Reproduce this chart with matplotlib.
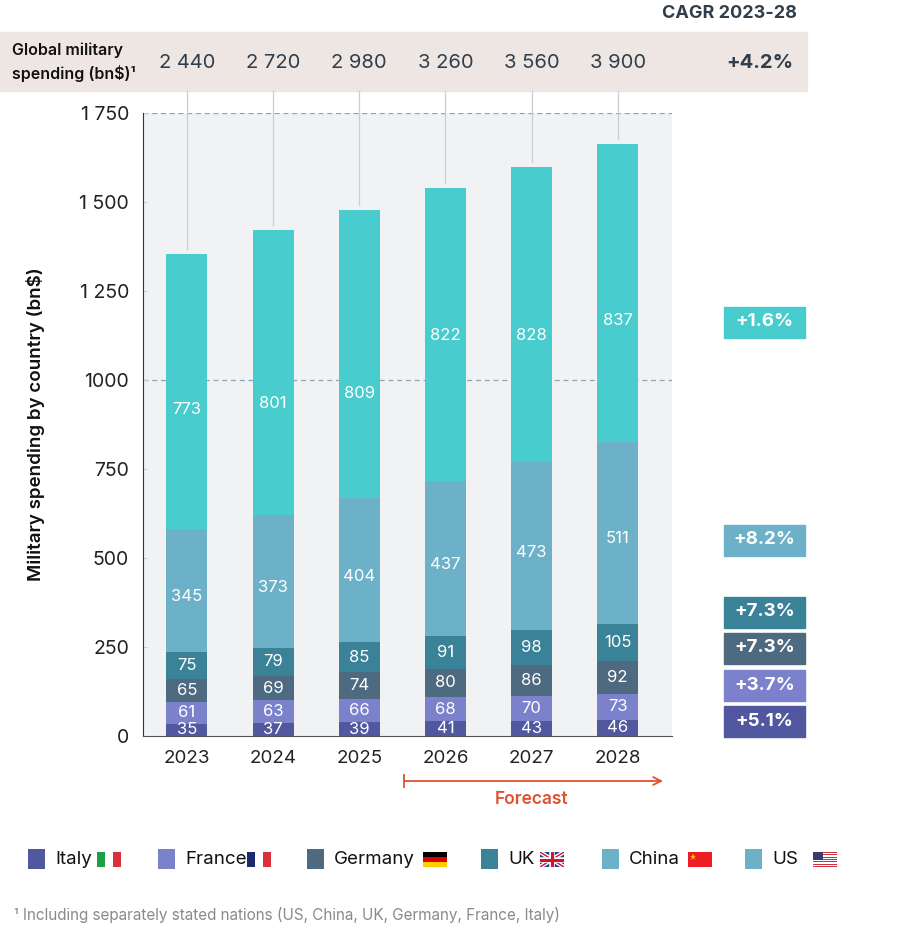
import numpy as np
import matplotlib.pyplot as plt
from matplotlib.patches import Rectangle

plt.rcParams['font.family'] = ['Inter', 'DejaVu Sans']

# ---------------- data ----------------
years = ['2023', '2024', '2025', '2026', '2027', '2028']
countries = ['Italy', 'France', 'Germany', 'UK', 'China', 'US']
italy = [35, 37, 39, 41, 43, 46]
france = [61, 63, 66, 68, 70, 73]
germany = [65, 69, 74, 80, 86, 92]
uk = [75, 79, 85, 91, 98, 105]
china = [345, 373, 404, 437, 473, 511]
us = [773, 801, 809, 822, 828, 837]
global_spend = ['2 440', '2 720', '2 980', '3 260', '3 560', '3 900']
cagr = ['+5.1%', '+3.7%', '+7.3%', '+7.3%', '+8.2%', '+1.6%']
cagr_total = '+4.2%'

series = [italy, france, germany, uk, china, us]
colors = ['#5158a0', '#7b82cb', '#4e6a80', '#3a8298', '#6db1c8', '#48cccd']
legend_colors = ['#5158a0', '#7b82cb', '#4e6a80', '#3a8298', '#6db1c8', '#6db1c8']
dark = '#2f3e4a'
orange = '#e0522f'

# label placement (layout only): shift of segment labels from the segment middle
label_shift = [0, 0, 0, 0, -18, 0]
us_label_y = [916, 935, 963, 1126, 1126, 1166]

fig = plt.figure(figsize=(9, 9.33), dpi=100)

# overlay in pixel coords for header, boxes, legend
ov = fig.add_axes([0, 0, 1, 1], zorder=0)
ov.set_xlim(0, 900)
ov.set_ylim(933, 0)
ov.axis('off')

ax = fig.add_axes([143 / 900, 1 - 736 / 933, 529 / 900, 623 / 933], zorder=1)
ax.set_facecolor('#f1f2f4')

x = np.arange(len(years))
bottom = np.zeros(len(years))
for k, (vals, col) in enumerate(zip(series, colors)):
    vals = np.array(vals)
    ax.bar(x, vals, 0.476, bottom=bottom, color=col, edgecolor='none', zorder=3)
    for j, (xi, b, v) in enumerate(zip(x, bottom, vals)):
        ly = us_label_y[j] if k == len(series) - 1 else b + v / 2 + label_shift[k]
        ax.text(xi, ly, str(v), ha='center', va='center', color='white',
                fontsize=12, zorder=4)
    bottom = bottom + vals
totals = bottom

ax.set_xlim(-0.51, 5.63)
ax.set_ylim(0, 1750)
ax.set_yticks([0, 250, 500, 750, 1000, 1250, 1500, 1750])
ax.set_yticklabels(['0', '250', '500', '750', '1000', '1 250', '1 500', '1 750'],
                   fontsize=14, color='#222222')
ax.set_xticks(x)
ax.set_xticklabels(years, fontsize=13.5, color='#222222')
ax.tick_params(axis='x', length=0, pad=10)
ax.tick_params(axis='y', direction='in', length=3, color='#c8ced3', pad=10)
for s in ['top', 'right']:
    ax.spines[s].set_visible(False)
ax.spines['left'].set_color('#333333')
ax.spines['bottom'].set_color('#555555')
for yv in [1000, 1750]:
    ax.axhline(yv, color='#8fa3b3', lw=0.9, ls=(0, (4, 3)), zorder=1)
ax.set_ylabel('Military spending by country (bn$)', fontsize=13.5,
              weight='semibold', color='#111111')
ax.yaxis.set_label_coords(-0.185, 0.5)

# lines from header to bar tops + header numbers
top_line = 1750 * (736 - 91) / 623
for xi, t, g in zip(x, totals, global_spend):
    ax.plot([xi, xi], [t + 14, top_line], color='#c8ced3', lw=0.9,
            clip_on=False, zorder=2)
    ax.text(xi, (736 - 63) / 623, g, transform=ax.get_xaxis_transform(),
            ha='center', va='center', fontsize=14.5, color=dark)

# header band
ov.add_patch(Rectangle((0, 32), 807, 59, color='#ede6e3', zorder=0))
ov.text(12, 50, 'Global military', fontsize=11.5, weight='semibold',
        va='center', color='#111111')
ov.text(12, 74, 'spending (bn$)¹', fontsize=11.5, weight='semibold',
        va='center', color='#111111')
ov.text(797, 13, 'CAGR 2023-28', ha='right', va='center', fontsize=13,
        weight='bold', color=dark)
ov.text(793, 63, cagr_total, ha='right', va='center', fontsize=14.5,
        weight='bold', color=dark)

# CAGR boxes
box_y = [721, 685, 648, 612, 540, 322]
for yc, col, lab in zip(box_y, colors, cagr):
    ov.add_patch(Rectangle((724, yc - 15.5), 81, 31, color=col))
    ov.text(764.5, yc, lab, ha='center', va='center', fontsize=13.5,
            weight='bold', color='white')

# forecast arrow
ov.annotate('', xy=(663, 781), xytext=(404, 781),
            arrowprops=dict(arrowstyle='->', color=orange, lw=1.3,
                            mutation_scale=14, shrinkA=0, shrinkB=0))
ov.plot([404, 404], [775, 787], color=orange, lw=1.3)
ov.text(532, 800, 'Forecast', ha='center', va='center', fontsize=12.5,
        weight='semibold', color=orange)


# ---------------- flags ----------------
def vflag(x0, y0, w, h, cols):
    for k, c in enumerate(cols):
        ov.add_patch(Rectangle((x0 + k * w / 3, y0), w / 3, h, color=c, lw=0))


def hflag(x0, y0, w, h, cols):
    for k, c in enumerate(cols):
        ov.add_patch(Rectangle((x0, y0 + k * h / 3), w, h / 3, color=c, lw=0))


def uk_flag(x0, y0, w, h):
    bg = Rectangle((x0, y0), w, h, color='#2a3c8a', lw=0)
    ov.add_patch(bg)
    for lw, c in [(3.0, 'white'), (1.0, '#cf142b')]:
        for xs, ys in [([x0, x0 + w], [y0, y0 + h]), ([x0, x0 + w], [y0 + h, y0])]:
            ln, = ov.plot(xs, ys, color=c, lw=lw, solid_capstyle='butt')
            ln.set_clip_path(bg)
    for lw, c in [(4.0, 'white'), (2.2, '#cf142b')]:
        ln, = ov.plot([x0 + w / 2, x0 + w / 2], [y0, y0 + h], color=c, lw=lw)
        ln.set_clip_path(bg)
        ln, = ov.plot([x0, x0 + w], [y0 + h / 2, y0 + h / 2], color=c, lw=lw)
        ln.set_clip_path(bg)


def china_flag(x0, y0, w, h):
    ov.add_patch(Rectangle((x0, y0), w, h, color='#ee1c25', lw=0))
    ov.plot(x0 + w * 0.22, y0 + h * 0.32, marker='*', color='#ffde00',
            markersize=5, markeredgewidth=0)


def us_flag(x0, y0, w, h):
    sh = h / 13
    for k in range(13):
        c = '#c8313e' if k % 2 == 0 else 'white'
        ov.add_patch(Rectangle((x0, y0 + k * sh), w, sh, color=c, lw=0))
    ov.add_patch(Rectangle((x0, y0), w * 0.42, sh * 7, color='#3c3b6e', lw=0))


leg_x = [28, 158, 307, 481, 602, 745]
flag_x = [97, 247, 423, 540, 688, 813]
fw, fh, fy = 24, 15, 852
for name, col, lx, fx in zip(countries, legend_colors, leg_x, flag_x):
    ov.add_patch(Rectangle((lx, 849), 17, 20, color=col, lw=0))
    ov.text(lx + 27, 860, name, va='center', fontsize=13.5, color='#111111')
    if name == 'Italy':
        vflag(fx, fy, fw, fh, ['#1e9e48', '#ffffff', '#d8303c'])
    elif name == 'France':
        vflag(fx, fy, fw, fh, ['#1a2a6c', '#ffffff', '#d8303c'])
    elif name == 'Germany':
        hflag(fx, fy, fw, fh, ['#000000', '#dd0000', '#ffce00'])
    elif name == 'UK':
        uk_flag(fx, fy, fw, fh)
    elif name == 'China':
        china_flag(fx, fy, fw, fh)
    else:
        us_flag(fx, fy, fw, fh)

ov.text(14, 915, '¹ Including separately stated nations (US, China, UK, Germany, France, Italy)',
        va='center', fontsize=11, color='#8a8a8a')

fig.savefig('out.png', dpi=100)
